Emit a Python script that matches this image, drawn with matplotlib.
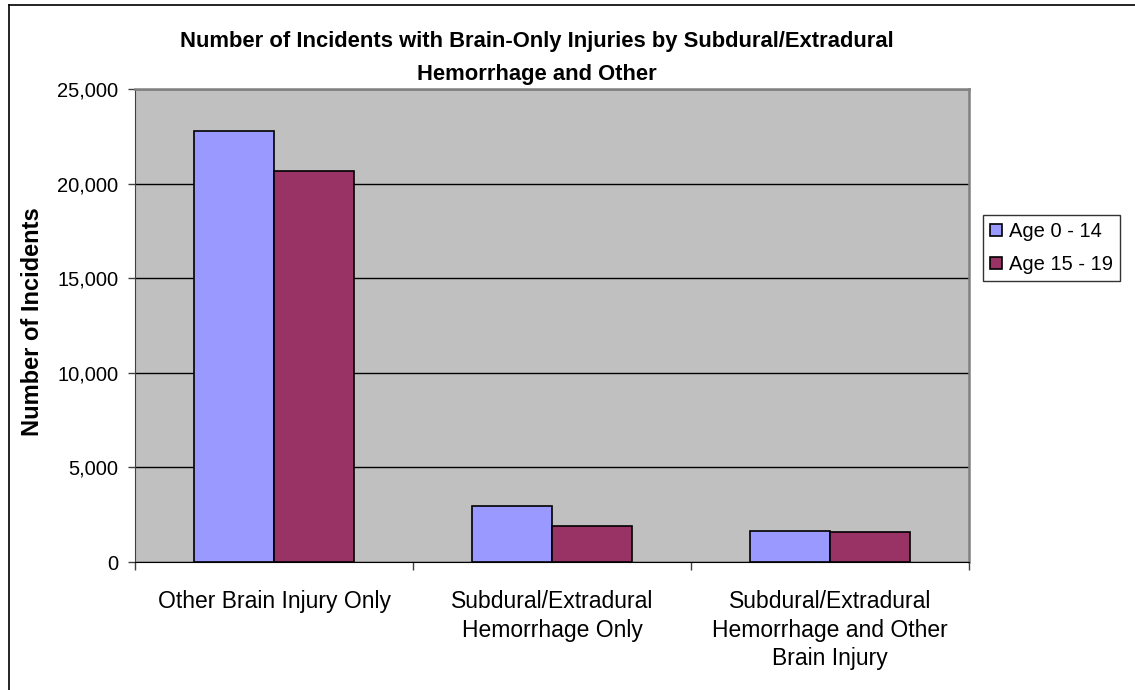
import matplotlib
matplotlib.use("Agg")
import matplotlib.pyplot as plt
from matplotlib.lines import Line2D
from matplotlib.ticker import FuncFormatter
import numpy as np

plt.rcParams['font.family'] = ['Liberation Sans', 'DejaVu Sans']

categories = ["Other Brain Injury Only",
              "Subdural/Extradural\nHemorrhage Only",
              "Subdural/Extradural\nHemorrhage and Other\nBrain Injury"]
series_names = ["Age 0 - 14", "Age 15 - 19"]
age_0_14 = [22800, 2950, 1650]
age_15_19 = [20650, 1880, 1570]
yticks = [0, 5000, 10000, 15000, 20000, 25000]

W, H = 1135, 690
fig = plt.figure(figsize=(W / 100, H / 100), dpi=100)
fig.patch.set_facecolor("white")

ax = fig.add_axes([135 / W, 1 - 562 / H, (969 - 135) / W, (562 - 89) / H])
ax.set_facecolor("#C0C0C0")

x = np.arange(len(categories))
bw = 0.288
ax.bar(x - bw / 2, age_0_14, bw, color="#9999FF", edgecolor="black",
       linewidth=1.2, label=series_names[0], zorder=3)
ax.bar(x + bw / 2, age_15_19, bw, color="#993366", edgecolor="black",
       linewidth=1.2, label=series_names[1], zorder=3)

ax.set_xlim(-0.5, 2.5)
ax.set_ylim(0, 25000)
ax.set_yticks(yticks)
ax.yaxis.set_major_formatter(FuncFormatter(lambda v, p: f"{int(v):,}"))
ax.yaxis.grid(True, color="black", linewidth=1, zorder=1)
ax.set_axisbelow(True)

ax.set_xticks(x)
ax.set_xticklabels(categories, fontsize=16.5, linespacing=1.32)
ax.set_xticks(np.arange(-0.5, 3.0, 1.0), minor=True)
ax.tick_params(axis="x", which="major", length=0, pad=20)
ax.tick_params(axis="x", which="minor", length=6, width=1, color="#404040")
ax.tick_params(axis="y", length=5, width=1, pad=7, labelsize=14.5, color="#404040")

for s in ["top", "right"]:
    ax.spines[s].set_color("#808080")
    ax.spines[s].set_linewidth(1.8)
ax.spines["left"].set_color("#404040")
ax.spines["bottom"].set_color("black")

fig.text(33 / W, 1 - 322 / H, "Number of Incidents", rotation=90,
         ha="center", va="center", fontsize=17, fontweight="bold")

fig.text(537 / W, 1 - 58 / H,
         "Number of Incidents with Brain-Only Injuries by Subdural/Extradural\nHemorrhage and Other",
         ha="center", va="center", fontsize=15.8, fontweight="bold", linespacing=1.75)

leg = fig.legend(loc="upper left", bbox_to_anchor=(983 / W, 1 - 215 / H),
                 bbox_transform=fig.transFigure, borderaxespad=0,
                 fontsize=14.5, frameon=True, fancybox=False,
                 handlelength=0.6, handleheight=0.6, handletextpad=0.35,
                 borderpad=0.35, labelspacing=0.7)
leg.get_frame().set_edgecolor("black")
leg.get_frame().set_linewidth(1)

# outer chart border (left and top only visible)
fig.add_artist(Line2D([9 / W, 9 / W], [0, 1 - 5 / H], color="black",
                      linewidth=1.2, transform=fig.transFigure))
fig.add_artist(Line2D([9 / W, 1], [1 - 5 / H, 1 - 5 / H], color="black",
                      linewidth=1.2, transform=fig.transFigure))

fig.savefig("out.png", dpi=100)
